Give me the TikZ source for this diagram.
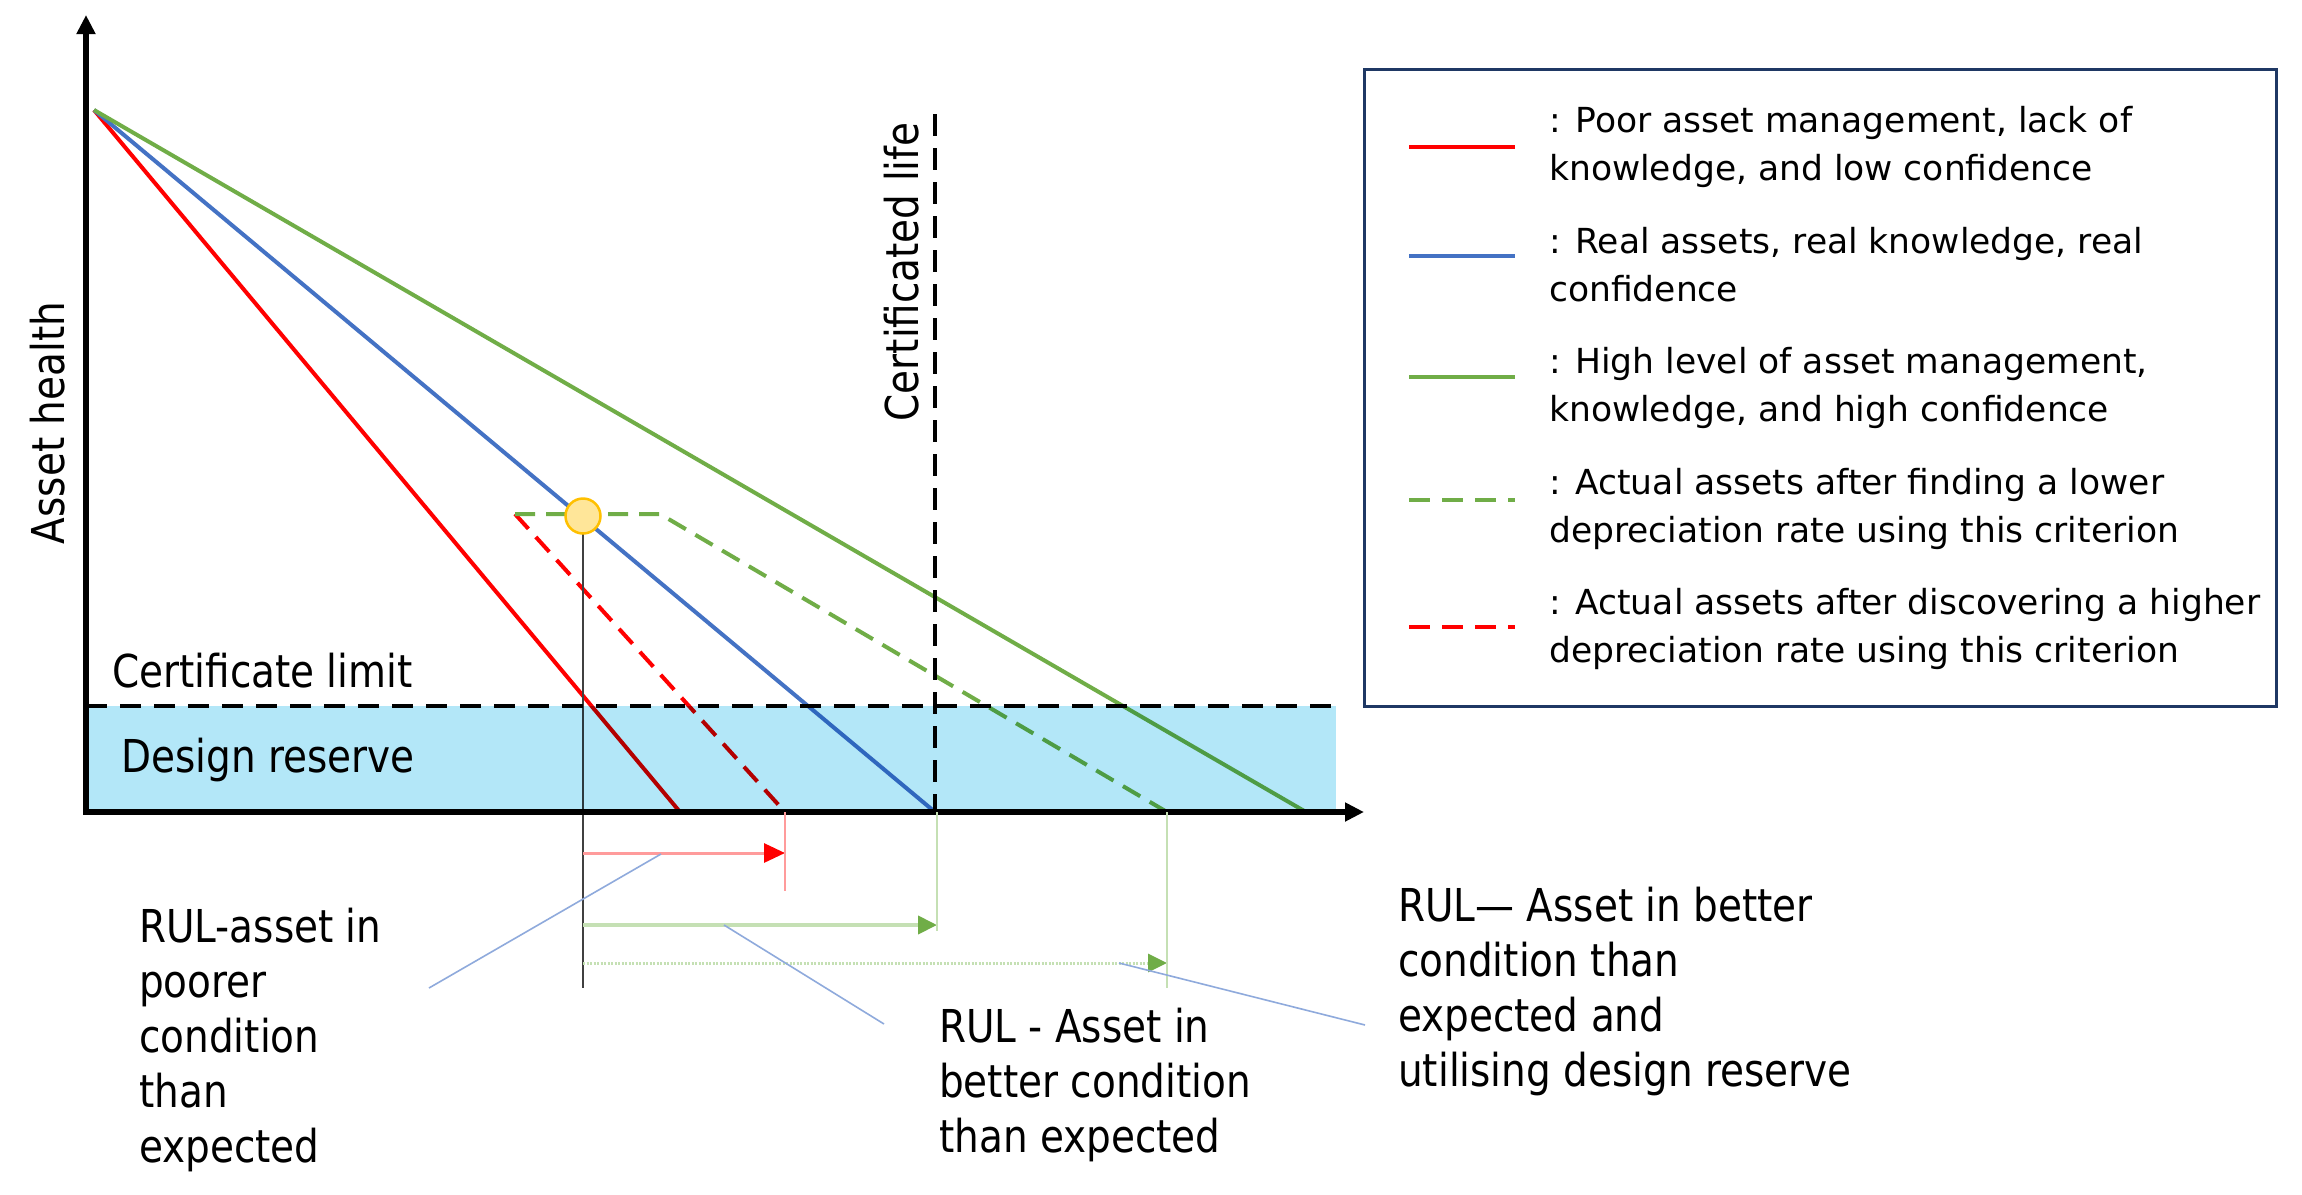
\documentclass[tikz,border=0pt]{standalone}
\usepackage{fontspec}
\setmainfont{DejaVu Sans}
\newfontfamily\narrowf{DejaVu Sans}[FakeStretch=0.86]
\usetikzlibrary{arrows.meta}
\definecolor{cred}{HTML}{FF0000}
\definecolor{cblue}{HTML}{4472C4}
\definecolor{cgreen}{HTML}{70AD47}
\definecolor{lgreen}{HTML}{C5E0B4}
\definecolor{lred}{HTML}{FF9B9B}
\definecolor{reservec}{HTML}{B3E7F8}
\definecolor{calloutc}{HTML}{8FAADC}
\definecolor{navyc}{HTML}{1F3864}
\definecolor{cyel}{HTML}{FFE699}
\definecolor{cyelb}{HTML}{FFC000}
\begin{document}
\begin{tikzpicture}[x=1pt,y=-1pt,
  mainfont/.style={font=\narrowf\fontsize{45.3}{55}\selectfont},
  legfont/.style={font=\fontsize{34.5}{47.5}\selectfont},
  txt/.style={inner sep=0pt, anchor=base west, align=left},
  curve/.style={line width=4pt},
  dashcurve/.style={line width=4pt, dash pattern=on 20pt off 11pt},
  blackdash/.style={line width=4.5pt, dash pattern=on 21pt off 13pt},
  sample/.style={line width=4pt},
  sampledash/.style={line width=4pt, dash pattern=on 21pt off 12pt},
  callout/.style={calloutc, line width=1.6pt},
  guide/.style={line width=2pt},
  tipred/.style={-{Triangle[length=21pt,width=19pt,color=cred]}},
  tipgreen/.style={-{Triangle[length=19pt,width=18pt,color=cgreen]}},
]
\useasboundingbox (0,0) rectangle (2302,1194);
\fill[white] (0,0) rectangle (2302,1194);

% key points
\coordinate (O) at (94,110);
\coordinate (Ered) at (680,812);
\coordinate (Eblue) at (935,812);
\coordinate (Egreen) at (1306,812);
\coordinate (Dstart) at (515,514);
\coordinate (Gcorner) at (660,514);
\coordinate (Egd) at (1167,812);
\coordinate (Erd) at (785,812);

% depreciation curves
\draw[cred, curve] (O) -- (Ered);
\draw[cblue, curve] (O) -- (Eblue);
\draw[cgreen, curve] (O) -- (Egreen);
\draw[cred, dashcurve] (Dstart) -- (Erd);
\draw[cgreen, dashcurve] (Dstart) -- (Gcorner) -- (Egd);

% thin guide from the point
\coordinate (Pbot) at (583,988);
\draw[black!75, line width=1.5pt] (583,516) -- (Pbot);

% design reserve
\begin{scope}[blend mode=multiply]
\fill[reservec] (86,706) rectangle (1336,812);
\end{scope}

% certificate limit and certificated life
\draw[blackdash] (86,706) -- (1336,706);
\draw[line width=4pt, dash pattern=on 22pt off 12pt] (935,114) -- (Eblue);

% axes
\draw[line width=5.5pt, {Triangle[length=19pt,width=18pt]}-{Triangle[length=19pt,width=18pt]}] (86,15) -- (86,812) -- (1364,812);

% point
\node[circle, draw=cyelb, fill=cyel, line width=2.5pt, minimum size=35pt, inner sep=0pt] (P) at (583,516) {};

% RUL arrows
\coordinate (Ra) at (583,853); \coordinate (Rb) at (785,853);
\draw[lred, line width=3pt, tipred] (Ra) -- (Rb);
\coordinate (Rv) at (785,891);
\draw[lred, guide] (Erd) -- (Rv);

\coordinate (Ga) at (583,925); \coordinate (Gb) at (937,925);
\draw[lgreen, line width=4pt, tipgreen] (Ga) -- (Gb);
\coordinate (Gv1) at (937,812); \coordinate (Gv2) at (937,931);
\draw[lgreen, guide] (Gv1) -- (Gv2);

\coordinate (Da) at (583,963); \coordinate (Db) at (1167,963);
\draw[lgreen, line width=3pt, dash pattern=on 2pt off 1.5pt, tipgreen] (Da) -- (Db);
\coordinate (Dv) at (1167,988);
\draw[lgreen, guide] (Egd) -- (Dv);

% callouts
\coordinate (C1a) at (661,854); \coordinate (C1b) at (429,988);
\coordinate (C2a) at (724,925); \coordinate (C2b) at (884,1024);
\coordinate (C3a) at (1119,963); \coordinate (C3b) at (1365,1025);
\draw[callout] (C1a) -- (C1b);
\draw[callout] (C2a) -- (C2b);
\draw[callout] (C3a) -- (C3b);

% labels (multi-line nodes: base = baseline of last line)
\node[txt, mainfont] (climit) at (112,687) {Certificate limit};
\node[txt, mainfont] (dres) at (121,772) {Design reserve};
\node[mainfont, inner sep=0pt, anchor=base, rotate=90] (yl) at (64,423) {Asset health};
\node[mainfont, inner sep=0pt, anchor=base, rotate=90] (cl) at (918,272) {Certificated life};

\node[txt, mainfont] (t1) at (139,1162) {RUL-asset in\\poorer\\condition\\than\\expected};
\node[txt, mainfont] (t2) at (939,1152) {RUL - Asset in\\better condition\\than expected};
\node[txt, mainfont] (t3) at (1398,1086) {RUL— Asset in better\\condition than\\expected and\\utilising design reserve};

% legend
\draw[navyc, line width=3pt] (1364,69) rectangle (2276,706);
\draw[cred, sample] (1409,147) -- (1515,147);
\draw[cblue, sample] (1409,256) -- (1515,256);
\draw[cgreen, sample] (1409,377) -- (1515,377);
\draw[cgreen, sampledash] (1409,500) -- (1515,500);
\draw[cred, sampledash] (1409,627) -- (1515,627);
\node[txt, legfont] (l1) at (1549,180) {: Poor asset management, lack of\\knowledge, and low confidence};
\node[txt, legfont] (l2) at (1549,301) {: Real assets, real knowledge, real\\confidence};
\node[txt, legfont] (l3) at (1549,421) {: High level of asset management,\\knowledge, and high confidence};
\node[txt, legfont] (l4) at (1549,542) {: Actual assets after finding a lower\\depreciation rate using this criterion};
\node[txt, legfont] (l5) at (1549,662) {: Actual assets after discovering a higher\\depreciation rate using this criterion};
\end{tikzpicture}
\end{document}
